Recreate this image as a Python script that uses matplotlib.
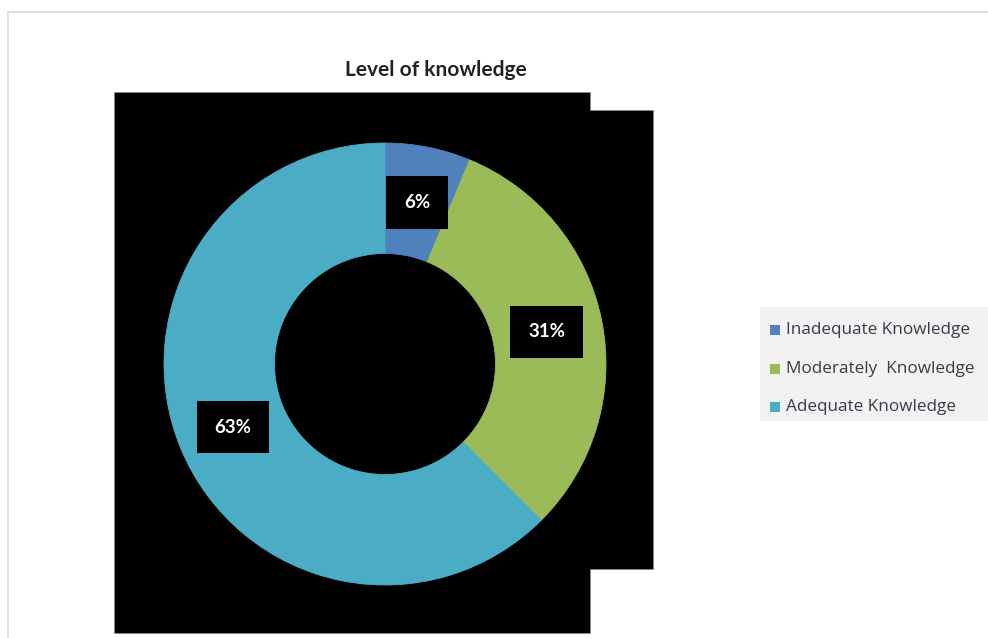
import matplotlib
matplotlib.use("Agg")
import matplotlib.pyplot as plt
from matplotlib.patches import Rectangle, Polygon
from matplotlib.lines import Line2D

categories = ["Inadequate Knowledge", "Moderately  Knowledge", "Adequate Knowledge"]
values = [6.25, 31.25, 62.5]
labels = ["6%", "31%", "63%"]
colors = ["#4F81BD", "#9BBB59", "#4BACC6"]

W, H = 988, 638
fig = plt.figure(figsize=(W / 100, H / 100), dpi=100)
fig.patch.set_facecolor("white")

# background axes in pixel coordinates
bg = fig.add_axes([0, 0, 1, 1])
bg.set_xlim(0, W)
bg.set_ylim(H, 0)
bg.axis("off")

# chart area frame lines
bg.add_line(Line2D([8, W], [12, 12], color="#D9D9D9", lw=1.2))
bg.add_line(Line2D([8, 8], [12, H], color="#D9D9D9", lw=1.2))

# black plot-area shape
shape = [(114, 92), (590, 92), (590, 110), (653, 110), (653, 569),
         (590, 569), (590, 633), (114, 633)]
bg.add_patch(Polygon(shape, closed=True, facecolor="black", edgecolor="#888888", lw=0.6))

# title
bg.text(436, 70, "Level of knowledge", ha="center", va="center",
        fontsize=15, fontweight="bold", family="Lato", color="#222222")

# legend box
bg.add_patch(Rectangle((760, 307), 228, 114, facecolor="#F2F2F2", edgecolor="none"))
leg_y = [330, 369, 407]
for cat, col, y in zip(categories, colors, leg_y):
    bg.add_patch(Rectangle((770, y - 5), 10, 10, facecolor=col, edgecolor="none"))
    bg.text(786, y, cat, ha="left", va="center", fontsize=12.3,
            family="Open Sans", color="#3A3A4A")

# donut axes
cx, cy, r = 385, 364, 221
ax = fig.add_axes([(cx - r) / W, (H - cy - r) / H, 2 * r / W, 2 * r / H])
ax.set_facecolor("none")
it = iter(labels)
wedges, texts, autotexts = ax.pie(
    values, colors=colors, startangle=90, counterclock=False,
    radius=1.0, wedgeprops=dict(width=0.5),
    autopct=lambda p: next(it), pctdistance=0.745,
)
for w, c in zip(wedges, colors):
    w.set_edgecolor(c)
    w.set_linewidth(0.6)
for t in autotexts:
    t.set_color("white")
    t.set_fontsize(13.5)
    t.set_fontweight("bold")
    t.set_family("Lato")
    t.set_bbox(dict(boxstyle="square,pad=0.95", facecolor="black", edgecolor="none"))
ax.set_xlim(-1, 1)
ax.set_ylim(-1, 1)
ax.set_aspect("equal")

fig.savefig("out.png", dpi=100)
